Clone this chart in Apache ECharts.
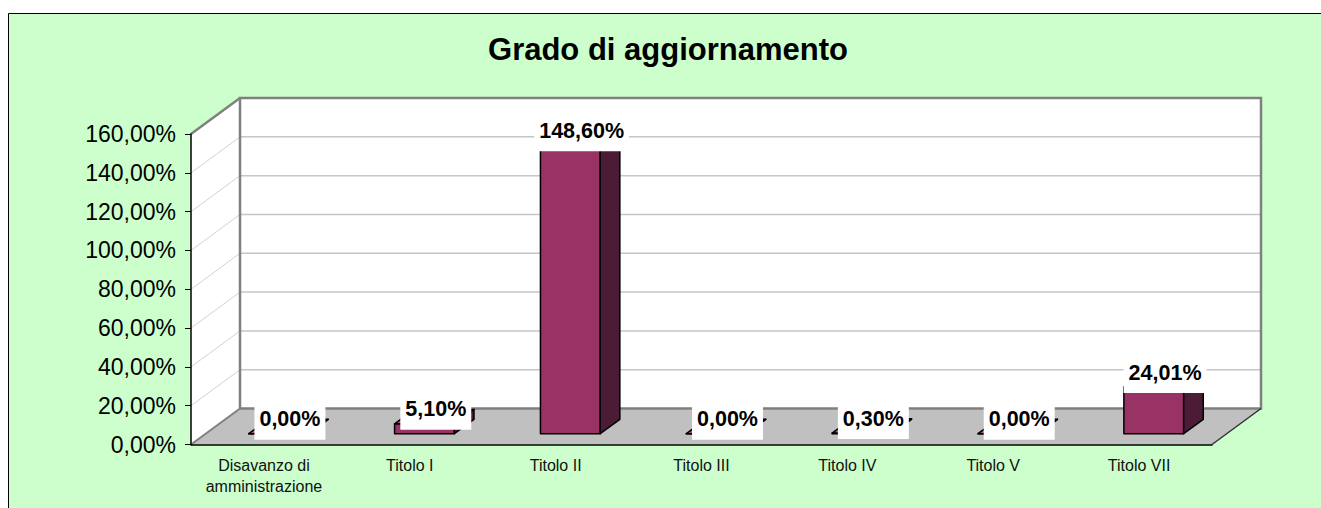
<!DOCTYPE html>
<html><head><meta charset="utf-8">
<script src="https://cdn.jsdelivr.net/npm/echarts@6/dist/echarts.min.js"></script>
<style>html,body{margin:0;padding:0;background:#fff}#c{width:1321px;height:508px}</style>
</head><body><div id="c"></div>
<script>
const TITLE = 'Grado di aggiornamento';
const categories = ['Disavanzo di\namministrazione', 'Titolo I', 'Titolo II', 'Titolo III', 'Titolo IV', 'Titolo V', 'Titolo VII'];
const values = [0.00, 5.10, 148.60, 0.00, 0.30, 0.00, 24.01];
const yTicks = [0, 20, 40, 60, 80, 100, 120, 140, 160];

const DX = 49, DY = -36;      // 3D depth offset of the walls
const FRONT = 0.3, BACK = 0.7; // bar depth (fraction of wall depth)
const FONT = '"Liberation Sans", Arial, sans-serif';
const pct = v => Number(v).toFixed(2).replace('.', ',') + '%';

const chart = echarts.init(document.getElementById('c'), null, {renderer: 'svg'});

function renderWalls(params, api) {
  const cs = params.coordSys;
  const L = cs.x, R = cs.x + cs.width, T = cs.y, B = cs.y + cs.height;
  const ch = [];
  ch.push({type: 'polygon', shape: {points: [[L + DX, T + DY], [R + DX, T + DY], [R + DX, B + DY], [L + DX, B + DY]]}, style: {fill: '#fff'}});
  ch.push({type: 'polygon', shape: {points: [[L, T], [L + DX, T + DY], [L + DX, B + DY], [L, B]]}, style: {fill: '#fff'}});
  yTicks.forEach(t => {
    if (t <= yTicks[0] || t >= yTicks[yTicks.length - 1]) return;
    const y = api.coord([0, t])[1];
    ch.push({type: 'line', shape: {x1: L + DX, y1: y + DY, x2: R + DX, y2: y + DY}, style: {stroke: '#c6c6c6', lineWidth: 1.5}});
    ch.push({type: 'line', shape: {x1: L, y1: y, x2: L + DX, y2: y + DY}, style: {stroke: '#d2d2d2', lineWidth: 1}});
  });
  ch.push({type: 'polygon', shape: {points: [[L, B], [R, B], [R + DX, B + DY], [L + DX, B + DY]]}, style: {fill: '#c0c0c0'}});
  ch.push({type: 'polyline', shape: {points: [[L + DX, B + DY], [L + DX, T + DY], [R + DX, T + DY], [R + DX, B + DY], [L + DX, B + DY]]}, style: {stroke: '#808080', lineWidth: 2.5, fill: null}});
  ch.push({type: 'line', shape: {x1: L, y1: T, x2: L + DX, y2: T + DY}, style: {stroke: '#808080', lineWidth: 2.5}});
  ch.push({type: 'line', shape: {x1: L, y1: B, x2: L + DX, y2: B + DY}, style: {stroke: '#808080', lineWidth: 2}});
  ch.push({type: 'line', shape: {x1: R, y1: B, x2: R + DX, y2: B + DY}, style: {stroke: '#333', lineWidth: 1.5}});
  return {type: 'group', children: ch};
}

function renderBar(params, api) {
  const cs = params.coordSys;
  const catW = cs.width / categories.length;
  const w = catW * 0.41;
  const i = api.value(0), v = api.value(1);
  const p0 = api.coord([i, 0]), p1 = api.coord([i, v]);
  const fdx = FRONT * DX, fdy = FRONT * DY, sdx = (BACK - FRONT) * DX, sdy = (BACK - FRONT) * DY;
  const cx = p0[0] + fdx;
  const x0 = cx - w / 2, x1 = cx + w / 2;
  const yb = p0[1] + fdy, yt = p1[1] + fdy;
  const st = fill => ({fill: fill, stroke: '#000', lineWidth: 1.5, lineJoin: 'round'});
  return {type: 'group', children: [
    {type: 'polygon', shape: {points: [[x0, yt], [x1, yt], [x1, yb], [x0, yb]]}, style: st('#993366')},
    {type: 'polygon', shape: {points: [[x1, yt], [x1 + sdx, yt + sdy], [x1 + sdx, yb + sdy], [x1, yb]]}, style: st('#4c1c37')},
    {type: 'polygon', shape: {points: [[x0, yt], [x1, yt], [x1 + sdx, yt + sdy], [x0 + sdx, yt + sdy]]}, style: st('#b84d85')},
    {type: 'text', x: p0[0] + 0.5 * DX + 1.5, y: yt - 14.5 - 12.5, z2: 10,
      style: {text: pct(v), font: 'bold 21.5px ' + FONT, fill: '#000', align: 'center', verticalAlign: 'top',
        backgroundColor: '#fff', padding: [2, 5, 10, 5], lineHeight: 21}}
  ]};
}

const option = {
  backgroundColor: '#fff',
  animation: false,
  graphic: [
    {type: 'rect', z: -10, silent: true, shape: {x: 8.5, y: 13.5, width: 1400, height: 600}, style: {fill: '#ccffcc', stroke: '#000', lineWidth: 1}},
    {type: 'text', z: 10, x: 668, y: 49.5, style: {text: TITLE, font: 'bold 31px ' + FONT, fill: '#000', align: 'center', verticalAlign: 'middle'}}
  ],
  grid: {left: 191, right: 109, top: 134, bottom: 63.5, containLabel: false, outerBoundsMode: 'none'},
  xAxis: {
    type: 'category', data: categories, z: 5,
    axisLine: {lineStyle: {color: '#000', width: 1.5}},
    axisTick: {length: 5, lineStyle: {color: '#000'}},
    axisLabel: {fontSize: 16, fontFamily: FONT, color: '#111', margin: 10, lineHeight: 21, interval: 0},
    splitLine: {show: false}
  },
  yAxis: {
    type: 'value', min: 0, max: 160, interval: 20, z: 5,
    axisLine: {show: true, lineStyle: {color: '#000', width: 1.5}},
    axisTick: {show: true, length: 6, lineStyle: {color: '#000'}},
    axisLabel: {fontSize: 23, fontFamily: FONT, color: '#000', margin: 15, formatter: pct},
    splitLine: {show: false}
  },
  series: [
    {type: 'custom', name: 'walls', z: 1, silent: true, renderItem: renderWalls, data: [[0, 0]]},
    {type: 'custom', name: 'Grado di aggiornamento', z: 2, renderItem: renderBar,
      data: values.map((v, i) => [i, v]), encode: {x: 0, y: 1}}
  ]
};
chart.setOption(option);
</script>
</body></html>
